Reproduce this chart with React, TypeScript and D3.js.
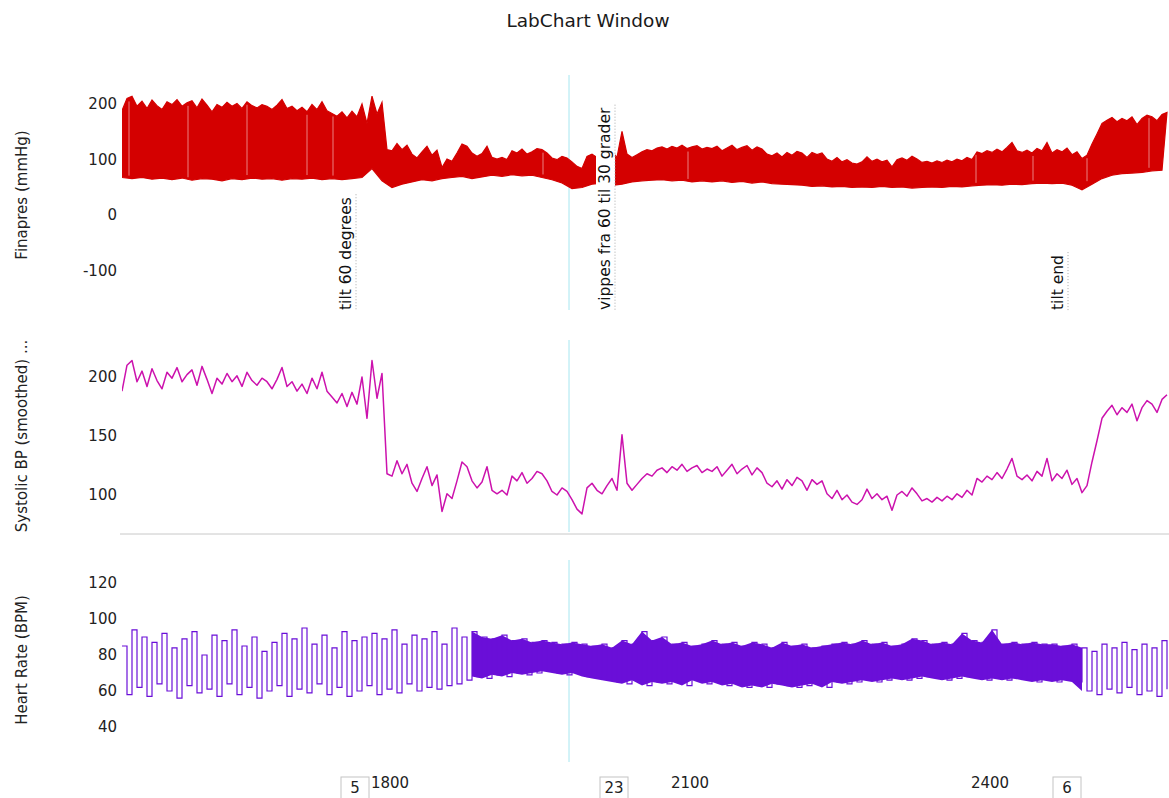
import { useLayoutEffect, useMemo, useRef, useState } from "react";
import * as d3 from "d3";

// seconds of the recording shown in the window
const T0 = 1532;
const T1 = 2579;
const SBP_STEP = 5;
const ENV_STEP = 10;

// systolic BP (smoothed), one value per 5 s, mmHg
const sbp = [
  188, 210, 214, 196, 205, 192, 207, 197, 190, 204,
  199, 208, 196, 202, 206, 193, 209, 198, 186, 199,
  194, 203, 196, 201, 192, 204, 197, 193, 199, 196,
  190, 198, 208, 192, 196, 188, 194, 186, 199, 190,
  204, 188, 183, 178, 186, 175, 187, 177, 200, 165,
  214, 182, 203, 118, 116, 129, 118, 126, 110, 103,
  114, 124, 108, 117, 86, 101, 97, 112, 128, 124,
  112, 106, 111, 124, 104, 101, 104, 100, 116, 112,
  119, 110, 114, 120, 118, 112, 103, 100, 106, 103,
  96, 88, 84, 106, 110, 104, 101, 108, 114, 104,
  151, 110, 104, 109, 114, 118, 116, 121, 123, 119,
  124, 121, 126, 120, 123, 125, 119, 122, 120, 124,
  116, 121, 126, 118, 122, 125, 117, 123, 119, 110,
  107, 112, 105, 113, 108, 115, 112, 104, 113, 109,
  112, 101, 97, 104, 96, 100, 94, 92, 96, 105,
  97, 101, 96, 99, 87, 100, 103, 99, 106, 101,
  95, 97, 94, 98, 95, 99, 96, 101, 98, 104,
  100, 114, 111, 116, 113, 119, 114, 122, 131, 116,
  113, 117, 112, 120, 116, 131, 112, 118, 114, 121,
  109, 114, 102, 108, 128, 146, 165, 171, 176, 168,
  174, 170, 177, 163, 174, 180, 177, 170, 181, 185,
];

// Finapres lower (diastolic) envelope, one value per 10 s
const dia = [
  68, 66, 68, 65, 67, 64, 67, 63, 66, 65,
  62, 66, 64, 67, 65, 66, 63, 66, 65, 67,
  64, 66, 64, 66, 68, 84, 62, 50, 56, 60,
  64, 62, 66, 68, 70, 66, 69, 72, 70, 73,
  71, 72, 68, 64, 58, 48, 50, 56, 58, 54,
  56, 60, 62, 63, 64, 62, 63, 60, 62, 60,
  62, 59, 61, 58, 60, 57, 56, 55, 54, 52,
  53, 51, 52, 50, 51, 50, 52, 50, 51, 49,
  50, 51, 50, 52, 51, 53, 54, 55, 54, 56,
  55, 57, 58, 57, 58, 54, 46, 56, 66, 72,
  75, 76, 77, 80, 81,
];

// heart rate swing, upper and lower value per 10 s, BPM
const hrHigh = [
  85, 94, 90, 87, 92, 84, 89, 93, 80, 91,
  88, 94, 85, 90, 82, 87, 92, 89, 95, 86,
  91, 84, 93, 88, 90, 92, 89, 94, 86, 91,
  89, 93, 86, 95, 90, 93, 90, 89, 91, 88,
  89, 87, 88, 87, 86, 87, 86, 85, 86, 84,
  88, 86, 93, 88, 90, 86, 87, 85, 86, 88,
  86, 87, 85, 87, 86, 84, 87, 85, 86, 84,
  85, 86, 87, 86, 88, 86, 87, 85, 86, 89,
  88, 86, 87, 86, 92, 88, 87, 94, 86, 87,
  86, 87, 86, 86, 85, 86, 84, 82, 86, 84,
  87, 83, 86, 84, 88,
];
const hrLow = [
  58, 62, 57, 64, 60, 56, 63, 59, 61, 57,
  64, 58, 62, 56, 60, 63, 57, 61, 59, 64,
  58, 62, 57, 60, 63, 58, 61, 59, 64, 60,
  62, 61, 63, 64, 66, 68, 67, 69, 68, 70,
  69, 70, 71, 70, 69, 70, 68, 67, 66, 65,
  64, 66, 63, 65, 64, 65, 63, 66, 64, 65,
  63, 64, 62, 63, 62, 64, 63, 62, 63, 64,
  62, 65, 64, 65, 66, 65, 66, 67, 66, 67,
  68, 67, 66, 67, 68, 67, 66, 67, 66, 67,
  66, 65, 66, 65, 66, 65, 60, 58, 61, 59,
  62, 58, 60, 57, 61,
];
// stretch where the beat-to-beat HR trace is a solid band
const hrDense = [1882, 2492];

// short drop-outs in the Finapres band (s)
const finGaps = [1539, 1598, 1657, 1717, 1743, 1953, 2098, 2386, 2443, 2497, 2559];

const comments = [
  { t: 1765, num: "5", text: "tilt 60 degrees" },
  { t: 2024, num: "23", text: "vippes fra 60 til 30 grader" },
  { t: 2477, num: "6", text: "tilt end" },
];
const cursorT = 1979;

const xTicks = [1800, 2100, 2400];
const finTicks = [-100, 0, 100, 200];
const sbpTicks = [100, 150, 200];
const hrTicks = [40, 60, 80, 100, 120];

const FONT = "DejaVu Sans, Verdana, sans-serif";
const RED = "#d40000";
const MAGENTA = "#cc12ad";
const PURPLE = "#6a0fd8";
const CYAN = "#a6e6f0";

const W = 1169;
const H = 798;
const LEFT = 122;
const COMMENT_BASE = 310;

function CommentLabel({ x, text }: { x: number; text: string }) {
  const ref = useRef<SVGTextElement>(null);
  const [len, setLen] = useState(text.length * 8);
  useLayoutEffect(() => {
    if (ref.current) setLen(ref.current.getComputedTextLength());
  }, [text]);
  const top = COMMENT_BASE - len - 3;
  return (
    <g>
      <rect x={x - 18} y={top} width={19} height={len + 5} fill="white" />
      <line x1={x + 1} x2={x + 1} y1={top} y2={COMMENT_BASE + 1} stroke="#a8a8a8" strokeDasharray="1,2" />
      <text
        ref={ref}
        transform={`translate(${x - 4},${COMMENT_BASE}) rotate(-90)`}
        fontSize={15.5}
        fill="#111"
      >
        {text}
      </text>
    </g>
  );
}

function YAxis({ scale, ticks, label, mid }: { scale: d3.ScaleLinear<number, number>; ticks: number[]; label: string; mid: number }) {
  return (
    <g fontFamily={FONT}>
      {ticks.map((v) => (
        <text key={v} x={117} y={scale(v)} textAnchor="end" dominantBaseline="central" fontSize={15} fill="#222">
          {v}
        </text>
      ))}
      <text transform={`translate(27,${mid}) rotate(-90)`} textAnchor="middle" fontSize={15} fill="#222">
        {label}
      </text>
    </g>
  );
}

export default function App() {
  const x = useMemo(() => d3.scaleLinear().domain([T0, T1]).range([LEFT, W]), []);
  const yFin = useMemo(() => d3.scaleLinear().domain([-100, 200]).range([271, 104]), []);
  const ySbp = useMemo(() => d3.scaleLinear().domain([100, 200]).range([495, 377]), []);
  const yHr = useMemo(() => d3.scaleLinear().domain([40, 120]).range([727, 583]), []);

  const sbpPts = sbp.map((v, i) => ({ t: T0 + i * SBP_STEP, v }));
  const envT = (i: number) => T0 + i * ENV_STEP;

  // Finapres band: systolic edge forward, diastolic edge back
  const finPoly: [number, number][] = [
    ...sbpPts.map((p) => [x(p.t), yFin(p.v)] as [number, number]),
    ...dia.map((v, i) => [x(envT(i)), yFin(v)] as [number, number]).reverse(),
  ];
  const finPath = d3.line()(finPoly) + "Z";

  const sbpPath = d3
    .line<{ t: number; v: number }>()
    .x((p) => x(p.t))
    .y((p) => ySbp(p.v))(sbpPts);

  // beat-to-beat HR drawn as a stepped trace between the swing values
  const hrZig: [number, number][] = [];
  hrHigh.forEach((hi, i) => {
    hrZig.push([x(envT(i)), yHr(hi)]);
    hrZig.push([x(envT(i) + ENV_STEP / 2), yHr(hrLow[i])]);
  });
  const hrPath = d3.line().curve(d3.curveStepAfter)(hrZig);
  const denseIdx = d3.range(hrHigh.length).filter((i) => envT(i) >= hrDense[0] && envT(i) <= hrDense[1]);
  const hrArea = d3
    .area<number>()
    .x((i) => x(envT(i)))
    .y0((i) => yHr(hrLow[i]))
    .y1((i) => yHr(hrHigh[i]))(denseIdx);

  const nearest = (arr: number[], step: number, t: number) =>
    arr[Math.max(0, Math.min(arr.length - 1, Math.round((t - T0) / step)))];

  return (
    <div style={{ position: "fixed", left: 0, top: 0, background: "white" }}>
      <svg width={W} height={H} fontFamily={FONT} style={{ display: "block" }}>
        <defs>
          <clipPath id="clipFin">
            <rect x={LEFT} y={70} width={W - LEFT} height={242} />
          </clipPath>
          <clipPath id="clipSbp">
            <rect x={LEFT} y={335} width={W - LEFT} height={198} />
          </clipPath>
          <clipPath id="clipHr">
            <rect x={LEFT} y={555} width={W - LEFT} height={210} />
          </clipPath>
        </defs>
        <rect width={W} height={H} fill="white" />

        <text x={588} y={27} textAnchor="middle" fontSize={18.5} fill="#1a1a1a">
          LabChart Window
        </text>

        {/* cursor line through all three channels */}
        <g stroke={CYAN} strokeWidth={1}>
          <line x1={x(cursorT)} x2={x(cursorT)} y1={75} y2={310} />
          <line x1={x(cursorT)} x2={x(cursorT)} y1={340} y2={532} />
          <line x1={x(cursorT)} x2={x(cursorT)} y1={560} y2={762} />
        </g>

        <line x1={120} x2={W} y1={534} y2={534} stroke="#c8c8c8" strokeWidth={1} />

        {/* Finapres */}
        <g clipPath="url(#clipFin)">
          <path d={finPath} fill={RED} stroke={RED} strokeWidth={1.2} strokeLinejoin="miter" />
          {finGaps.map((g) => (
            <line
              key={g}
              x1={x(g)}
              x2={x(g)}
              y1={yFin(nearest(sbp, SBP_STEP, g)) + 3}
              y2={yFin(nearest(dia, ENV_STEP, g)) - 3}
              stroke="#ffffff"
              strokeOpacity={0.5}
              strokeWidth={1}
            />
          ))}
        </g>
        <YAxis scale={yFin} ticks={finTicks} label="Finapres (mmHg)" mid={195} />

        {comments.map((c) => (
          <CommentLabel key={c.num} x={x(c.t)} text={c.text} />
        ))}

        {/* Systolic BP */}
        <g clipPath="url(#clipSbp)">
          <path d={sbpPath ?? ""} fill="none" stroke={MAGENTA} strokeWidth={1.5} strokeLinejoin="round" />
        </g>
        <YAxis scale={ySbp} ticks={sbpTicks} label="Systolic BP (smoothed) ..." mid={436} />

        {/* Heart rate */}
        <g clipPath="url(#clipHr)">
          <path d={hrArea ?? ""} fill={PURPLE} />
          <path d={hrPath ?? ""} fill="none" stroke={PURPLE} strokeWidth={1.2} />
        </g>
        <YAxis scale={yHr} ticks={hrTicks} label="Heart Rate (BPM)" mid={660} />

        {/* time axis */}
        {xTicks.map((t) => (
          <text key={t} x={x(t)} y={788} textAnchor="middle" fontSize={15} fill="#222">
            {t}
          </text>
        ))}
        {comments.map((c) => (
          <g key={c.num}>
            <rect x={x(c.t) - 14} y={777} width={28} height={24} fill="white" stroke="#c4c4c4" />
            <text x={x(c.t)} y={793} textAnchor="middle" fontSize={15} fill="#222">
              {c.num}
            </text>
          </g>
        ))}
      </svg>
    </div>
  );
}
